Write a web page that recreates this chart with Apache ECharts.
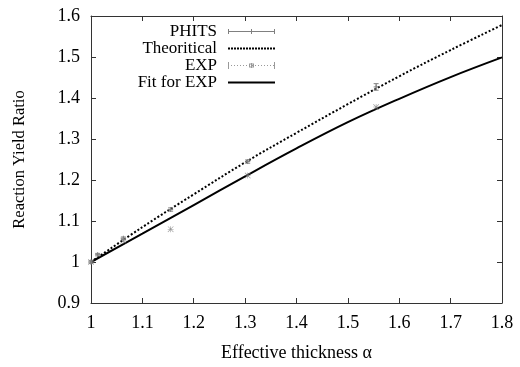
<!DOCTYPE html>
<html><head><meta charset="utf-8">
<script src="https://cdn.jsdelivr.net/npm/echarts@6/dist/echarts.min.js"></script>
<style>html,body{margin:0;padding:0;background:#fff}#c{width:520px;height:367px}</style>
</head><body><div id="c"></div>
<script>
// ---- data ----
const xTickLabels = ['1','1.1','1.2','1.3','1.4','1.5','1.6','1.7','1.8'];
const yTickLabels = ['0.9','1','1.1','1.2','1.3','1.4','1.5','1.6'];
const curveX = [1.0, 1.1, 1.2, 1.3, 1.4, 1.5, 1.6, 1.7, 1.8];
const theoreticalY = [1.0, 1.085, 1.165, 1.243, 1.315, 1.385, 1.453, 1.517, 1.578];
const fitY = [1.0, 1.069, 1.139, 1.209, 1.277, 1.341, 1.398, 1.451, 1.499];
const phitsX = [1.0, 1.013, 1.063, 1.155, 1.305, 1.555];
const phitsY = [1.0, 1.018, 1.058, 1.128, 1.245, 1.427];
const phitsErr = [0.003, 0.003, 0.003, 0.004, 0.004, 0.008];
const expX = [1.0, 1.063, 1.155, 1.305, 1.555];
const expY = [1.0, 1.052, 1.080, 1.211, 1.378];
const seriesNames = ['PHITS', 'Theoritical', 'EXP', 'Fit for EXP'];

const FONT = "'Liberation Serif','Times New Roman',serif";
const AX = '#333';
const chart = echarts.init(document.getElementById('c'), null, {renderer: 'canvas'});

const star = 'path://M4.5,0h1v10h-1z M0,4.5h10v1h-10z M0.7,0L10,9.3L9.3,10L0,0.7z M9.3,0L10,0.7L0.7,10L0,9.3z';
function dots(w, period, d, y) { let s = ''; for (let x = 0; x + d <= w; x += period) s += 'M' + x + ',' + y + 'h' + d + 'v' + d + 'h-' + d + 'z '; return s; }
const iconPhits = 'path://M0,2h1v5h-1z M46,2h1v5h-1z M0,4h47v1h-47z M23,2h1v5h-1z';
const iconTheo = 'path://' + dots(47, 3, 2, 0);
const iconExp = 'path://M0,0h1v7h-1z M46,0h1v7h-1z ' + dots(46, 3, 1, 3) + ' M21,1.5h5v1h-5z M21,4.5h5v1h-5z M23,1h1v5h-1z M21,2.5h1v2h-1z M25,2.5h1v2h-1z';
const iconFit = 'path://M0,0h47v2h-47z';

const xAxisBase = {type: 'value', min: 1, max: 1.8, interval: 0.1,
  axisLine: {show: true, lineStyle: {color: AX, width: 1}},
  axisTick: {show: true, inside: true, length: 5, lineStyle: {color: AX}},
  splitLine: {show: false}};
const yAxisBase = {type: 'value', min: 0.9, max: 1.6, interval: 0.1,
  axisLine: {show: true, lineStyle: {color: AX, width: 1}},
  axisTick: {show: true, inside: true, length: 5, lineStyle: {color: AX}},
  splitLine: {show: false}};

chart.setOption({
  animation: false,
  backgroundColor: '#fff',
  grid: {left: 91, right: 18, top: 16, bottom: 59, containLabel: false},
  legend: {
    orient: 'vertical', align: 'right', right: 245, top: 23, padding: 0,
    itemWidth: 47, itemHeight: 10, itemGap: 0,
    textStyle: {fontFamily: FONT, fontSize: 17, color: '#000', padding: [0, 6, 0, 0]},
    data: [
      {name: seriesNames[0], icon: iconPhits},
      {name: seriesNames[1], icon: iconTheo},
      {name: seriesNames[2], icon: iconExp},
      {name: seriesNames[3], icon: iconFit}
    ]
  },
  xAxis: [
    Object.assign({}, xAxisBase, {position: 'bottom', name: 'Effective thickness α', nameLocation: 'middle', nameGap: 41,
      nameTextStyle: {fontFamily: FONT, fontSize: 18, color: '#000'},
      axisLabel: {show: true, margin: 11, fontFamily: FONT, fontSize: 18, color: '#000',
        formatter: (v) => xTickLabels[Math.round((v - 1) * 10)]}}),
    Object.assign({}, xAxisBase, {position: 'top', axisLabel: {show: false}})
  ],
  yAxis: [
    Object.assign({}, yAxisBase, {position: 'left', name: 'Reaction Yield Ratio', nameLocation: 'middle', nameGap: 63, nameRotate: 90,
      nameTextStyle: {fontFamily: FONT, fontSize: 16.5, color: '#000'},
      axisLabel: {show: true, margin: 11, fontFamily: FONT, fontSize: 18, color: '#000',
        formatter: (v) => yTickLabels[Math.round((v - 0.9) * 10)]}}),
    Object.assign({}, yAxisBase, {position: 'right', axisLabel: {show: false}})
  ],
  series: [
    {
      name: seriesNames[0], type: 'custom', xAxisIndex: 0, yAxisIndex: 0, z: 5,
      color: '#808080',
      data: phitsX.map((x, i) => [x, phitsY[i], phitsErr[i]]),
      renderItem: function (params, api) {
        const x = api.value(0), y = api.value(1), e = api.value(2);
        const p = api.coord([x, y]);
        const top = api.coord([x, y + e]);
        const bot = api.coord([x, y - e]);
        const st = {stroke: '#808080', lineWidth: 1};
        return {type: 'group', children: [
          {type: 'line', shape: {x1: p[0], y1: top[1], x2: p[0], y2: bot[1]}, style: st},
          {type: 'line', shape: {x1: p[0] - 2.5, y1: top[1], x2: p[0] + 2.5, y2: top[1]}, style: st},
          {type: 'line', shape: {x1: p[0] - 2.5, y1: bot[1], x2: p[0] + 2.5, y2: bot[1]}, style: st},
          {type: 'line', shape: {x1: p[0] - 2.5, y1: p[1], x2: p[0] + 2.5, y2: p[1]}, style: st},
          {type: 'line', shape: {x1: p[0], y1: p[1] - 2.5, x2: p[0], y2: p[1] + 2.5}, style: st}
        ]};
      }
    },
    {
      name: seriesNames[1], type: 'line', xAxisIndex: 0, yAxisIndex: 0, smooth: 0.4, symbol: 'none', z: 3,
      color: '#000',
      lineStyle: {color: '#000', width: 2, type: [2, 2]},
      data: curveX.map((x, i) => [x, theoreticalY[i]])
    },
    {
      name: seriesNames[2], type: 'scatter', xAxisIndex: 0, yAxisIndex: 0, z: 6,
      color: '#808080', symbol: star, symbolSize: 6,
      itemStyle: {color: '#808080'},
      data: expX.map((x, i) => [x, expY[i]])
    },
    {
      name: seriesNames[3], type: 'line', xAxisIndex: 0, yAxisIndex: 0, smooth: 0.4, symbol: 'none', z: 4,
      color: '#000',
      lineStyle: {color: '#000', width: 2},
      data: curveX.map((x, i) => [x, fitY[i]])
    }
  ]
});
</script></body></html>
